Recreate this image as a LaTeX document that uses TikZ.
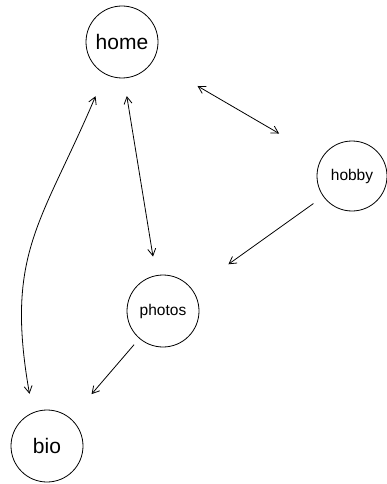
\documentclass[tikz,border=0pt]{standalone}
\usepackage{fontspec}
\setmainfont{Liberation Sans}
\usetikzlibrary{arrows.meta}

\begin{document}
\begin{tikzpicture}[x=1pt,y=-1pt,line width=0.8pt,
        >={Straight Barb[length=7pt,width=8pt]},
        page/.style={circle, draw, minimum size=72pt, inner sep=0pt},
        big/.style={font=\fontsize{21}{21}\selectfont},
        small/.style={font=\fontsize{15.5}{16}\selectfont}]
            \useasboundingbox (0,0) rectangle (387,484);
            \node[page, big] (home) at (122,42) {home};
            \node[page, small, minimum size=70pt] (hobby) at (352,176) {hobby};
            \node[page, small] (photos) at (163,311) {photos};
            \node[page, big] (bio) at (47,446) {bio};
            \draw[<->, shorten <=24pt, shorten >=19pt] (home.242) to[out=247, in=100, looseness=1.2] (bio.113);
            \draw[<->, shorten <=18pt, shorten >=19pt] (home.273) -- (photos.101);
            \draw[<->, shorten <=51pt, shorten >=49pt] (home) -- (hobby);
            \draw[->, shorten <=12pt, shorten >=44pt] (hobby) -- (photos);
            \draw[->, shorten <=8pt, shorten >=32pt] (photos) -- (bio);
        \end{tikzpicture}
\end{document}
